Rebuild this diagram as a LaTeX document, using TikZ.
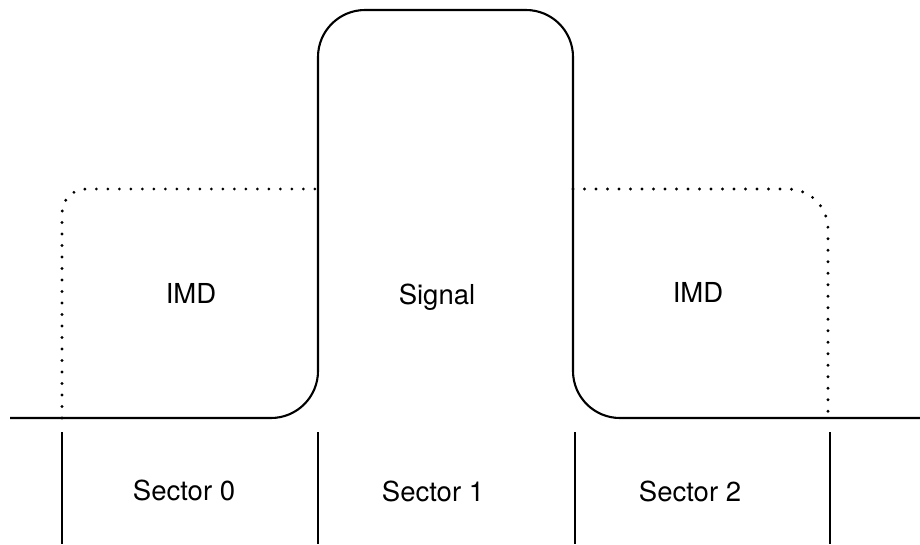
\documentclass[tikz,border=0pt]{standalone}
\usepackage{fontspec}
\setmainfont{TeX Gyre Heros}
\begin{document}
\begin{tikzpicture}[x=1pt,y=-1pt,
  curve/.style={line width=2.1pt, line join=round},
  envelope/.style={line width=3.2pt, line cap=round, dash pattern=on 0pt off 11.5pt},
  divider/.style={line width=1.7pt},
  lbl/.style={font=\fontsize{27.5}{30}\selectfont, anchor=base, inner sep=0pt}]
  \useasboundingbox (0,0) rectangle (920,544);

  % intermodulation envelopes either side of the carrier
  \draw[envelope, rounded corners=24pt] (62,418) -- (62,189) -- (318,189);
  \draw[envelope, rounded corners=40pt] (573,189) -- (828,189) -- (828,418);

  % signal spectrum on the frequency axis
  \draw[curve, rounded corners=47pt]
    (10,418) -- (318,418) -- (318,10) -- (573,10) -- (573,418) -- (920,418);

  % sector boundaries
  \foreach \n/\x in {a/62, b/318, c/575, d/830} {
    \coordinate (\n top) at (\x,432);
    \coordinate (\n bot) at (\x,544);
    \draw[divider] (\n top) -- (\n bot);
  }

  % labels
  \node[lbl] (imdL) at (191,303) {IMD};
  \node[lbl] (sig)  at (437,304) {Signal};
  \node[lbl] (imdR) at (698,302) {IMD};
  \node[lbl] (sec0) at (184,500) {Sector 0};
  \node[lbl] (sec1) at (433,501) {Sector 1};
  \node[lbl] (sec2) at (690,501) {Sector 2};
\end{tikzpicture}
\end{document}
